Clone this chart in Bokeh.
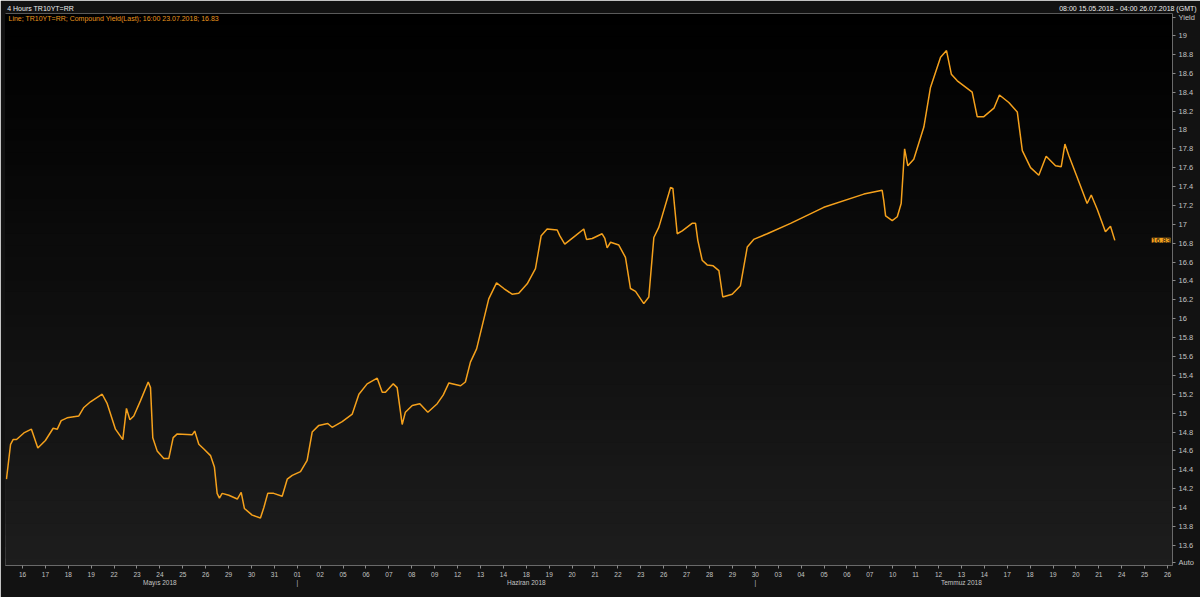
from bokeh.plotting import figure
from bokeh.models import (FixedTicker, Label, BoxAnnotation, Range1d, NumeralTickFormatter,
                          LinearAxis, Span)
from bokeh.embed import file_html
from bokeh.resources import INLINE

# ---- data ----
day_labels = ["16", "17", "18", "19", "22", "23", "24", "25", "26", "29", "30", "31",
              "01", "02", "05", "06", "07", "08", "09", "12", "13", "14", "18", "19",
              "20", "21", "22", "23", "26", "27", "28", "29", "30", "03", "04", "05",
              "06", "07", "10", "11", "12", "13", "14", "17", "18", "19", "20", "21",
              "24", "25", "26"]
month_labels = ["Mayıs 2018", "Haziran 2018", "Temmuz 2018"]
month_label_ticks = [6, 22, 41]     # day tick under which each month name sits
month_sep_ticks = [12, 32]          # first day tick of a new month
y_ticks = [13.6, 13.8, 14.0, 14.2, 14.4, 14.6, 14.8, 15.0, 15.2, 15.4, 15.6, 15.8,
           16.0, 16.2, 16.4, 16.6, 16.8, 17.0, 17.2, 17.4, 17.6, 17.8, 18.0, 18.2,
           18.4, 18.6, 18.8, 19.0]
header_texts = ["4 Hours TR10YT=RR", "08:00 15.05.2018 - 04:00 26.07.2018 (GMT)"]
legend_text = "Line; TR10YT=RR; Compound Yield(Last); 16:00 23.07.2018; 16.83"

x_days = [-0.70, -0.52, -0.41, -0.26, 0.06, 0.39, 0.67, 1.00, 1.34, 1.52,
          1.69, 1.95, 2.46, 2.68, 2.97, 3.48, 3.70, 4.06, 4.38, 4.54,
          4.69, 4.86, 5.15, 5.49, 5.59, 5.69, 5.88, 6.17, 6.39, 6.58,
          6.76, 7.41, 7.52, 7.70, 7.92, 8.21, 8.38, 8.50, 8.60, 8.72,
          9.01, 9.38, 9.55, 9.69, 10.03, 10.39, 10.54, 10.71, 10.97, 11.34,
          11.56, 11.78, 12.14, 12.43, 12.65, 12.94, 13.33, 13.52, 13.96, 14.40,
          14.69, 15.05, 15.49, 15.71, 15.85, 16.19, 16.36, 16.58, 16.72, 17.02,
          17.35, 17.70, 18.11, 18.37, 18.62, 19.13, 19.34, 19.56, 19.83, 20.36,
          20.70, 21.02, 21.38, 21.67, 22.04, 22.40, 22.65, 22.91, 23.35, 23.46,
          23.68, 24.15, 24.51, 24.63, 24.88, 25.31, 25.43, 25.53, 25.68, 26.04,
          26.33, 26.55, 26.77, 27.13, 27.35, 27.57, 27.79, 28.30, 28.40, 28.59,
          28.81, 29.24, 29.39, 29.49, 29.68, 29.90, 30.16, 30.41, 30.58, 30.99,
          31.35, 31.65, 31.93, 32.52, 33.54, 34.99, 36.74, 37.54, 37.61, 37.69,
          37.98, 38.20, 38.37, 38.52, 38.66, 38.92, 39.36, 39.65, 40.09, 40.35,
          40.56, 40.82, 41.47, 41.69, 41.98, 42.42, 42.66, 43.07, 43.44, 43.66,
          44.02, 44.38, 44.70, 45.11, 45.36, 45.52, 45.69, 46.13, 46.49, 46.67,
          46.93, 47.29, 47.51, 47.70]
yields = [14.30, 14.67, 14.72, 14.72, 14.79, 14.83, 14.63, 14.71, 14.84, 14.83,
          14.92, 14.95, 14.97, 15.06, 15.12, 15.20, 15.10, 14.83, 14.72, 15.05,
          14.93, 14.97, 15.13, 15.33, 15.27, 14.74, 14.60, 14.52, 14.52, 14.74,
          14.78, 14.77, 14.81, 14.67, 14.62, 14.55, 14.43, 14.15, 14.10, 14.15,
          14.13, 14.09, 14.16, 13.99, 13.92, 13.89, 14.00, 14.15, 14.15, 14.12,
          14.30, 14.34, 14.38, 14.50, 14.80, 14.87, 14.89, 14.85, 14.91, 14.99,
          15.20, 15.31, 15.37, 15.22, 15.22, 15.31, 15.27, 14.88, 15.01, 15.08,
          15.10, 15.01, 15.10, 15.19, 15.32, 15.29, 15.33, 15.54, 15.68, 16.21,
          16.38, 16.32, 16.26, 16.27, 16.37, 16.53, 16.88, 16.95, 16.94, 16.88,
          16.79, 16.88, 16.95, 16.84, 16.85, 16.90, 16.85, 16.75, 16.81, 16.78,
          16.65, 16.32, 16.29, 16.16, 16.23, 16.86, 16.97, 17.39, 17.38, 16.90,
          16.93, 17.01, 17.01, 16.83, 16.62, 16.57, 16.56, 16.51, 16.23, 16.26,
          16.35, 16.76, 16.84, 16.90, 17.01, 17.18, 17.32, 17.36, 17.25, 17.09,
          17.04, 17.08, 17.22, 17.80, 17.62, 17.69, 18.03, 18.45, 18.77, 18.84,
          18.59, 18.52, 18.40, 18.14, 18.14, 18.23, 18.37, 18.29, 18.19, 17.78,
          17.60, 17.52, 17.72, 17.62, 17.61, 17.85, 17.73, 17.45, 17.22, 17.31,
          17.16, 16.92, 16.98, 16.83]
last_value = 16.83

FONT = "Liberation Sans"
ORANGE = "#f5a11c"
X0, X1 = -0.742, 50.218
Y0, Y1 = 13.386, 19.233

p = figure(width=1200, height=597, x_range=Range1d(X0, X1), y_range=Range1d(Y0, Y1),
           y_axis_location="right", output_backend="svg", toolbar_location=None,
           min_border_left=5, min_border_right=28, min_border_top=13, min_border_bottom=32,
           background_fill_color="#000000", border_fill_color="#121212")
p.grid.visible = False
p.outline_line_color = "#4e4e4e"

# background gradient (stacked, overlapping bands: dark grey at bottom -> black at top)
n_bands = 48
for i in range(n_bands):
    b = Y0 - 0.05 + (Y1 - Y0 + 0.05) * i / n_bands
    g = int(round(0x1d * (1 - i / n_bands) ** 1.15))
    col = "#%02x%02x%02x" % (g, g, g)
    p.add_layout(BoxAnnotation(bottom=b, fill_color=col, fill_alpha=1,
                               line_color=None, level="underlay"))

p.line(x_days, yields, line_color=ORANGE, line_width=1.5)

# x axis: days, with month names / month separators on a second text line
day_text = {i: s for i, s in enumerate(day_labels)}
for t, m in zip(month_label_ticks, month_labels):
    day_text[t] = day_text[t] + "\n" + m
for t in month_sep_ticks:
    day_text[t] = day_text[t] + "\n|"
xa = p.xaxis[0]
xa.ticker = FixedTicker(ticks=list(range(len(day_labels))))
xa.major_label_overrides = day_text
xa.minor_tick_line_color = None
xa.major_tick_in = 0
xa.major_tick_out = 3
xa.major_tick_line_color = "#8a8a8a"
xa.axis_line_color = "#6a6a6a"
xa.major_label_text_color = "#c4c4c4"
xa.major_label_text_font = FONT
xa.major_label_text_font_size = "6.5px"
xa.major_label_standoff = 2

# header (above) axis carrying the chart's title texts
header_pos = [0.79, 48.27]
ha = LinearAxis(ticker=FixedTicker(ticks=header_pos),
                major_label_overrides=dict(zip(header_pos, header_texts)),
                axis_line_color="#5a5a5a", major_tick_line_color=None,
                major_tick_in=0, major_tick_out=0, minor_tick_line_color=None,
                major_label_standoff=2, major_label_text_font=FONT,
                major_label_text_font_size="7px", major_label_text_color="#ececec")
p.add_layout(ha, "above")

# y axis (right) with the "Yield" caption on top and the "Auto" marker at the bottom
ya = p.yaxis[0]
ya.ticker = FixedTicker(ticks=y_ticks + [19.19, 13.417])
ya.formatter = NumeralTickFormatter(format="0.[0]")
ya.major_label_overrides = {19.19: "Yield", 13.417: "Auto"}
ya.minor_tick_line_color = None
ya.major_tick_in = 0
ya.major_tick_out = 3
ya.major_tick_line_color = "#8a8a8a"
ya.axis_line_color = "#6a6a6a"
ya.major_label_text_color = "#c4c4c4"
ya.major_label_text_font = FONT
ya.major_label_text_font_size = "7.5px"
ya.major_label_standoff = 3

# legend line
p.add_layout(Label(x=X0, y=19.18, x_offset=3, text=legend_text,
                   text_baseline="middle", text_font=FONT, text_font_size="7px",
                   text_color="#e8961e"))

# last value marker
p.add_layout(Label(x=X1, y=last_value, x_offset=-2, text="%.2f" % last_value, text_align="right",
                   text_baseline="middle", text_font=FONT, text_font_size="7.5px",
                   text_color="#111111", background_fill_color=ORANGE, background_fill_alpha=1))

open("out.html", "w").write(file_html(p, INLINE))
